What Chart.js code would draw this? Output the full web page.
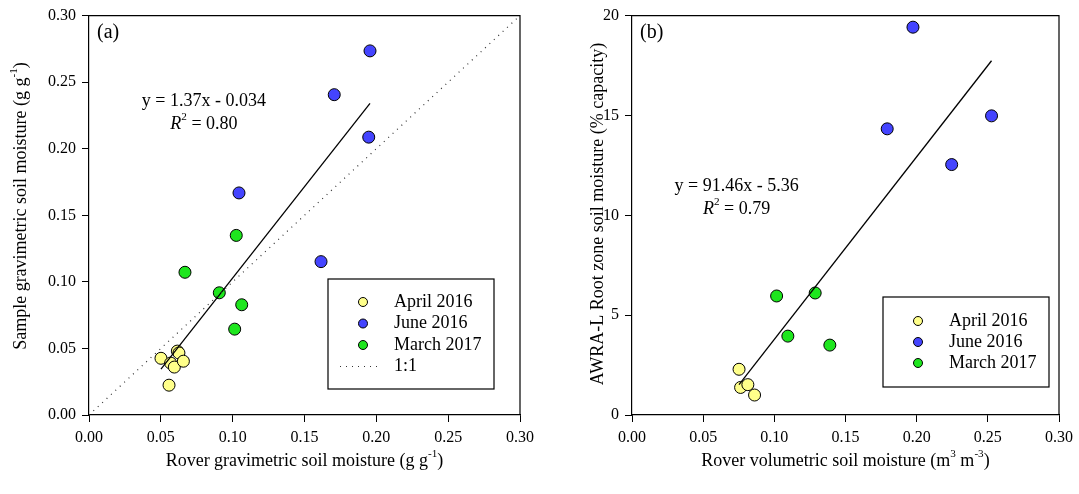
<!DOCTYPE html>
<html>
<head>
<meta charset="utf-8">
<script src="https://cdn.jsdelivr.net/npm/chart.js@4.4.0/dist/chart.umd.min.js"></script>
<style>
  html, body { margin: 0; padding: 0; background: #fff; }
  #wrap { position: relative; width: 1079px; height: 494px; }
  .panel { position: absolute; top: 0; height: 494px; }
  #pa { left: 0; width: 540px; }
  #pb { left: 540px; width: 539px; }
</style>
</head>
<body>
<div id="wrap">
  <div class="panel" id="pa"><canvas id="ca"></canvas></div>
  <div class="panel" id="pb"><canvas id="cb"></canvas></div>
</div>
<script>
// ---- values ----
const seriesNames = ['April 2016', 'June 2016', 'March 2017'];
const seriesColors = ['#ffff8a', '#4444ff', '#1ee61e'];

// panel (a): rover vs sample gravimetric soil moisture (g/g)
const aprRoverA  = [0.0501, 0.0557, 0.0615, 0.0626, 0.0568, 0.0594, 0.0657];
const aprSampleA = [0.0426, 0.0224, 0.0480, 0.0466, 0.0390, 0.0360, 0.0404];
const junRoverA  = [0.1956, 0.1707, 0.1947, 0.1044, 0.1615];
const junSampleA = [0.2735, 0.2406, 0.2087, 0.1668, 0.1152];
const marRoverA  = [0.1025, 0.0668, 0.0907, 0.1063, 0.1014];
const marSampleA = [0.1349, 0.1072, 0.0918, 0.0828, 0.0645];
const fitAX = [0.0501, 0.1956];
const fitAY = [0.0345, 0.2340];
const oneToOne = [0, 0.30];

// panel (b): rover volumetric vs AWRA-L root zone (% capacity)
const aprRoverB = [0.0752, 0.0763, 0.0814, 0.0861];
const aprAwraB  = [2.29, 1.38, 1.52, 1.00];
const junRoverB = [0.1974, 0.1793, 0.2526, 0.2246];
const junAwraB  = [19.42, 14.33, 14.98, 12.54];
const marRoverB = [0.1016, 0.1287, 0.1095, 0.1390];
const marAwraB  = [5.96, 6.11, 3.95, 3.50];
const fitBX = [0.0752, 0.2526];
const fitBY = [1.52, 17.74];

// ticks
const xTicks  = [0, 0.05, 0.10, 0.15, 0.20, 0.25, 0.30];
const yTicksA = [0, 0.05, 0.10, 0.15, 0.20, 0.25, 0.30];
const yTicksB = [0, 5, 10, 15, 20];

const SERIF = '"Liberation Serif", "Times New Roman", serif';

function pts(xs, ys) { return xs.map((x, i) => ({ x: x, y: ys[i] })); }

function pointSet(i, xs, ys) {
  return {
    label: seriesNames[i], data: pts(xs, ys), order: 1,
    pointRadius: 6, pointBackgroundColor: seriesColors[i],
    pointBorderColor: '#000', pointBorderWidth: 1, showLine: false
  };
}

// text with superscript / italic pieces: [[text, style], ...]
function drawRich(ctx, parts, x, y, align, size) {
  const fontFor = st => (st === 'i' ? 'italic ' : '') + (st === 'sup' ? size * 0.62 : size) + 'px ' + SERIF;
  let w = 0;
  parts.forEach(p => { ctx.font = fontFor(p[1]); w += ctx.measureText(p[0]).width; });
  let cx = align === 'center' ? x - w / 2 : (align === 'right' ? x - w : x);
  ctx.textBaseline = 'middle';
  ctx.textAlign = 'left';
  ctx.fillStyle = '#000';
  parts.forEach(p => {
    ctx.font = fontFor(p[1]);
    ctx.fillText(p[0], cx, p[1] === 'sup' ? y - size * 0.38 : y);
    cx += ctx.measureText(p[0]).width;
  });
}

const decor = {
  id: 'decor',
  afterDraw(chart) {
    const o = chart.options.plugins.decor;
    const ctx = chart.ctx, a = chart.chartArea;
    const sx = chart.scales.x, sy = chart.scales.y;
    ctx.save();
    // frame top and right
    ctx.strokeStyle = '#000';
    ctx.lineWidth = 1.2;
    ctx.beginPath();
    ctx.moveTo(a.left, a.top); ctx.lineTo(a.right, a.top); ctx.lineTo(a.right, a.bottom);
    ctx.stroke();

    // panel letter
    ctx.font = '20px ' + SERIF;
    ctx.fillStyle = '#000';
    ctx.textBaseline = 'middle';
    ctx.textAlign = 'left';
    ctx.fillText(o.letter, a.left + 8, a.top + 17);

    // equation
    const ex = sx.getPixelForValue(o.eqAt[0]), ey = sy.getPixelForValue(o.eqAt[1]);
    drawRich(ctx, [[o.eq, '']], ex, ey, 'center', 18);
    drawRich(ctx, [['R', 'i'], ['2', 'sup'], [' = ' + o.r2, '']], ex, ey + 23, 'center', 18);

    // axis titles
    drawRich(ctx, o.xTitle, (a.left + a.right) / 2, o.xTitleY, 'center', 18);
    ctx.save();
    ctx.translate(o.yTitleX, o.yTitleY);
    ctx.rotate(-Math.PI / 2);
    drawRich(ctx, o.yTitle, 0, 0, 'center', 18);
    ctx.restore();

    // legend box
    const L = o.legend;
    const bx = a.right - L.right - L.w, by = a.bottom - L.bottom - L.h;
    ctx.fillStyle = '#fff';
    ctx.fillRect(bx, by, L.w, L.h);
    ctx.strokeStyle = '#000';
    ctx.lineWidth = 1.2;
    ctx.strokeRect(bx, by, L.w, L.h);
    let row = 0;
    chart.data.datasets.forEach(ds => {
      if (!ds.inLegend) return;
      const ry = by + L.first + row * L.gap;
      if (ds.showLine) {
        ctx.save();
        ctx.strokeStyle = ds.borderColor;
        ctx.lineWidth = ds.borderWidth;
        ctx.setLineDash(ds.borderDash || []);
        ctx.beginPath();
        ctx.moveTo(bx + 12, ry); ctx.lineTo(bx + 52, ry);
        ctx.stroke();
        ctx.restore();
      } else {
        ctx.beginPath();
        ctx.arc(bx + 35, ry, 4.5, 0, Math.PI * 2);
        ctx.fillStyle = ds.pointBackgroundColor;
        ctx.fill();
        ctx.strokeStyle = '#000';
        ctx.lineWidth = 1;
        ctx.stroke();
      }
      drawRich(ctx, [[ds.label, '']], bx + 66, ry, 'left', 18);
      row++;
    });
    ctx.restore();
  }
};

function axis(min, max, ticks, fmt, fit) {
  return {
    type: 'linear', min: min, max: max,
    afterBuildTicks: s => { s.ticks = ticks.map(v => ({ value: v })); },
    afterFit: fit,
    ticks: { callback: fmt, color: '#000', font: { family: SERIF, size: 16 }, padding: 6, maxRotation: 0, autoSkip: false },
    grid: { drawOnChartArea: false, drawTicks: true, tickLength: 7, color: '#000', lineWidth: 1 },
    border: { color: '#000', width: 1.2 }
  };
}

function makePanel(canvas, datasets, yMax, yTicks, yFmt, yWidth, rightPad, deco) {
  return new Chart(canvas.getContext('2d'), {
    type: 'scatter',
    data: { datasets: datasets },
    options: {
      responsive: true,
      maintainAspectRatio: false,
      animation: false,
      events: [],
      layout: { padding: { top: 14, right: rightPad, left: 0, bottom: 0 } },
      scales: {
        x: axis(0, 0.30, xTicks, v => v.toFixed(2), s => { s.height = 79; }),
        y: axis(0, yMax, yTicks, yFmt, s => { s.width = yWidth; })
      },
      plugins: { legend: { display: false }, tooltip: { enabled: false }, decor: deco }
    },
    plugins: [decor]
  });
}

const fitStyle = { type: 'line', showLine: true, pointRadius: 0, borderColor: '#000', borderWidth: 1.3, fill: false, order: 0 };

// ===== PANEL (a) =====
const setsA = [
  pointSet(0, aprRoverA, aprSampleA),
  pointSet(1, junRoverA, junSampleA),
  pointSet(2, marRoverA, marSampleA),
  Object.assign({ label: '1:1', data: pts(oneToOne, oneToOne) }, fitStyle,
    { borderColor: '#333', borderWidth: 1.2, borderDash: [1, 5] }),
  Object.assign({ label: 'fit', data: pts(fitAX, fitAY) }, fitStyle)
];
setsA.forEach((d, i) => { d.inLegend = i < 4; });

makePanel(document.getElementById('ca'), setsA, 0.30, yTicksA, v => v.toFixed(2), 89, 20, {
  letter: '(a)',
  eq: 'y = 1.37x - 0.034', r2: '0.80', eqAt: [0.080, 0.2356],
  xTitle: [['Rover gravimetric soil moisture (g g', ''], ['-1', 'sup'], [')', '']], xTitleY: 461,
  yTitle: [['Sample gravimetric soil moisture (g g', ''], ['-1', 'sup'], [')', '']], yTitleX: 21, yTitleY: 206,
  legend: { w: 166, h: 110, right: 26, bottom: 26, first: 23, gap: 21.5 }
});

// ===== PANEL (b) =====
const setsB = [
  pointSet(0, aprRoverB, aprAwraB),
  pointSet(1, junRoverB, junAwraB),
  pointSet(2, marRoverB, marAwraB),
  Object.assign({ label: 'fit', data: pts(fitBX, fitBY) }, fitStyle)
];
setsB.forEach((d, i) => { d.inLegend = i < 3; });

makePanel(document.getElementById('cb'), setsB, 20, yTicksB, v => String(v), 92, 16, {
  letter: '(b)',
  eq: 'y = 91.46x - 5.36', r2: '0.79', eqAt: [0.0735, 11.45],
  xTitle: [['Rover volumetric soil moisture (m', ''], ['3', 'sup'], [' m', ''], ['-3', 'sup'], [')', '']], xTitleY: 461,
  yTitle: [['AWRA-L Root zone soil moisture (% capacity)', '']], yTitleX: 58, yTitleY: 214,
  legend: { w: 166, h: 90, right: 10, bottom: 28, first: 24, gap: 21 }
});
</script>
</body>
</html>
